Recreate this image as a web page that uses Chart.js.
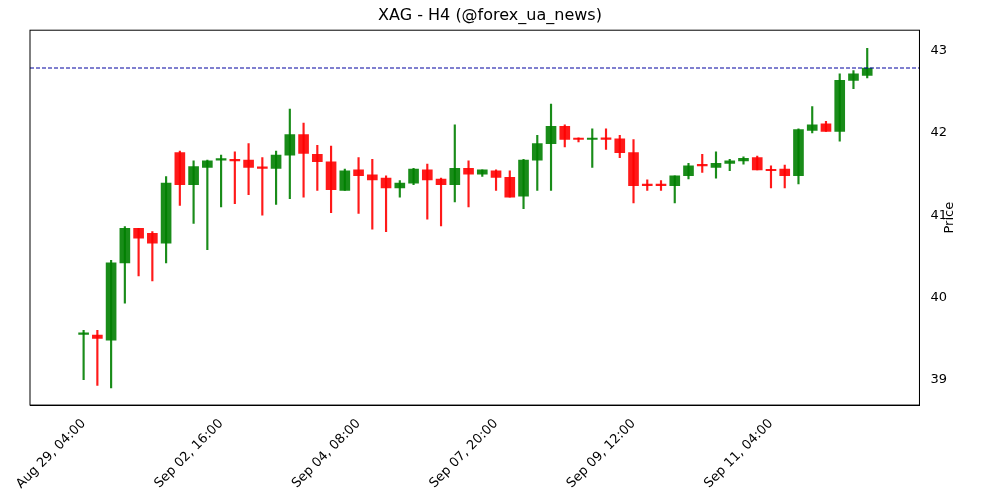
<!DOCTYPE html>
<html>
<head>
<meta charset="utf-8">
<script src="https://cdn.jsdelivr.net/npm/chart.js@4"></script>
<style>
  body { margin: 0; background: #fff; }
  #wrap { width: 1000px; height: 500px; }
</style>
</head>
<body>
<div id="wrap"><canvas id="chart"></canvas></div>
<script>
// OHLC per 4h candle
const opens  = [39.55,39.54,39.48,40.42,40.84,40.78,40.66,41.76,41.37,41.58,41.67,41.67,41.67,41.58,41.57,41.73,41.98,41.74,41.65,41.30,41.55,41.49,41.45,41.33,41.39,41.55,41.44,41.37,41.57,41.50,41.54,41.46,41.23,41.67,41.87,42.08,41.93,41.92,41.94,41.93,41.76,41.37,41.37,41.36,41.48,41.61,41.58,41.63,41.66,41.70,41.55,41.56,41.48,42.03,42.11,42.02,42.64,42.70];
const closes = [39.56,39.50,40.42,40.84,40.72,40.66,41.39,41.37,41.59,41.66,41.68,41.66,41.58,41.57,41.73,41.98,41.75,41.65,41.31,41.54,41.48,41.43,41.33,41.39,41.56,41.43,41.37,41.57,41.50,41.55,41.46,41.22,41.67,41.87,42.08,41.92,41.92,41.93,41.92,41.76,41.36,41.36,41.36,41.48,41.60,41.60,41.63,41.66,41.69,41.55,41.54,41.48,42.04,42.10,42.02,42.64,42.72,42.79];
const highs  = [39.60,39.60,40.45,40.86,40.84,40.80,41.47,41.78,41.66,41.67,41.73,41.77,41.87,41.70,41.78,42.29,42.12,41.85,41.84,41.56,41.70,41.68,41.48,41.42,41.57,41.62,41.45,42.10,41.66,41.55,41.55,41.54,41.68,41.97,42.35,42.10,41.94,42.05,42.05,41.97,41.92,41.43,41.42,41.48,41.63,41.74,41.77,41.68,41.71,41.72,41.60,41.61,42.05,42.32,42.14,42.72,42.76,43.03];
const lows   = [39.00,38.93,38.90,39.93,40.26,40.20,40.42,41.12,40.90,40.58,41.10,41.14,41.25,41.00,41.13,41.20,41.22,41.30,41.03,41.30,41.02,40.83,40.80,41.22,41.37,40.95,40.87,41.16,41.10,41.47,41.30,41.22,41.08,41.30,41.30,41.83,41.89,41.58,41.80,41.70,41.15,41.30,41.30,41.15,41.44,41.52,41.45,41.54,41.62,41.55,41.33,41.33,41.38,42.00,42.02,41.90,42.54,42.67];
const tickLabels = ['Aug 29, 04:00','Sep 02, 16:00','Sep 04, 08:00','Sep 07, 20:00','Sep 09, 12:00','Sep 11, 04:00',''];
const tickEvery = 10;
const lastPrice = 42.79;

const GREEN = 'rgba(0,128,0,0.9)';
const RED = 'rgba(255,0,0,0.9)';
const colors = opens.map((o, i) => closes[i] >= o ? GREEN : RED);

const xMin = -3.9, xMax = 60.8;

// frame around the plot + y axis title read bottom-to-top
const framePlugin = {
    id: 'frame',
    afterDraw(chart) {
        const { ctx, chartArea: a } = chart;
        ctx.save();
        ctx.strokeStyle = '#000';
        ctx.lineWidth = 1;
        ctx.strokeRect(a.left, a.top, a.right - a.left, a.bottom - a.top);
        ctx.translate(950, (a.top + a.bottom) / 2);
        ctx.rotate(-Math.PI / 2);
        ctx.fillStyle = '#000';
        ctx.font = '13px "DejaVu Sans"';
        ctx.textAlign = 'center';
        ctx.textBaseline = 'middle';
        ctx.fillText('Price', 0, 0);
        ctx.restore();
    }
};

new Chart(document.getElementById('chart'), {
    type: 'bar',
    plugins: [framePlugin],
    data: {
        datasets: [
            {
                label: 'wick',
                data: highs.map((h, i) => ({ x: i, y: [lows[i], h] })),
                backgroundColor: colors,
                barThickness: 1.5,
                grouped: false,
                order: 2
            },
            {
                label: 'body',
                data: opens.map((o, i) => ({ x: i, y: [o, closes[i]] })),
                backgroundColor: colors,
                barThickness: 10,
                minBarLength: 1.5,
                grouped: false,
                order: 1
            },
            {
                type: 'line',
                label: 'last',
                data: [{ x: xMin, y: lastPrice }, { x: xMax, y: lastPrice }],
                borderColor: '#0000a0',
                borderWidth: 1,
                borderDash: [4, 2],
                pointRadius: 0,
                order: 0
            }
        ]
    },
    options: {
        responsive: true,
        maintainAspectRatio: false,
        animation: false,
        layout: { padding: { left: 30, right: 50, top: 0, bottom: 5 } },
        scales: {
            x: {
                type: 'linear',
                offset: false,
                min: xMin,
                max: xMax,
                grid: { display: false, drawTicks: true },
                border: { color: '#000' },
                afterBuildTicks: axis => {
                    axis.ticks = tickLabels.map((_, i) => ({ value: i * tickEvery }));
                },
                afterFit: axis => { axis.paddingLeft = 0; },
                ticks: {
                    maxRotation: 45,
                    minRotation: 45,
                    color: '#000',
                    font: { family: 'DejaVu Sans', size: 13 },
                    callback: v => tickLabels[Math.round(v / tickEvery)]
                }
            },
            y: {
                position: 'right',
                min: 38.69,
                max: 43.25,
                grid: { display: false },
                border: { color: '#000' },
                afterBuildTicks: axis => {
                    axis.ticks = [39, 40, 41, 42, 43].map(v => ({ value: v }));
                },
                ticks: { color: '#000', font: { family: 'DejaVu Sans', size: 13 } }
            }
        },
        plugins: {
            legend: { display: false },
            tooltip: { enabled: false },
            title: {
                display: true,
                text: 'XAG - H4 (@forex_ua_news)',
                color: '#000',
                font: { family: 'DejaVu Sans', size: 16, weight: 'normal' },
                padding: { top: 6, bottom: 5 }
            }
        }
    }
});
</script>
</body>
</html>
